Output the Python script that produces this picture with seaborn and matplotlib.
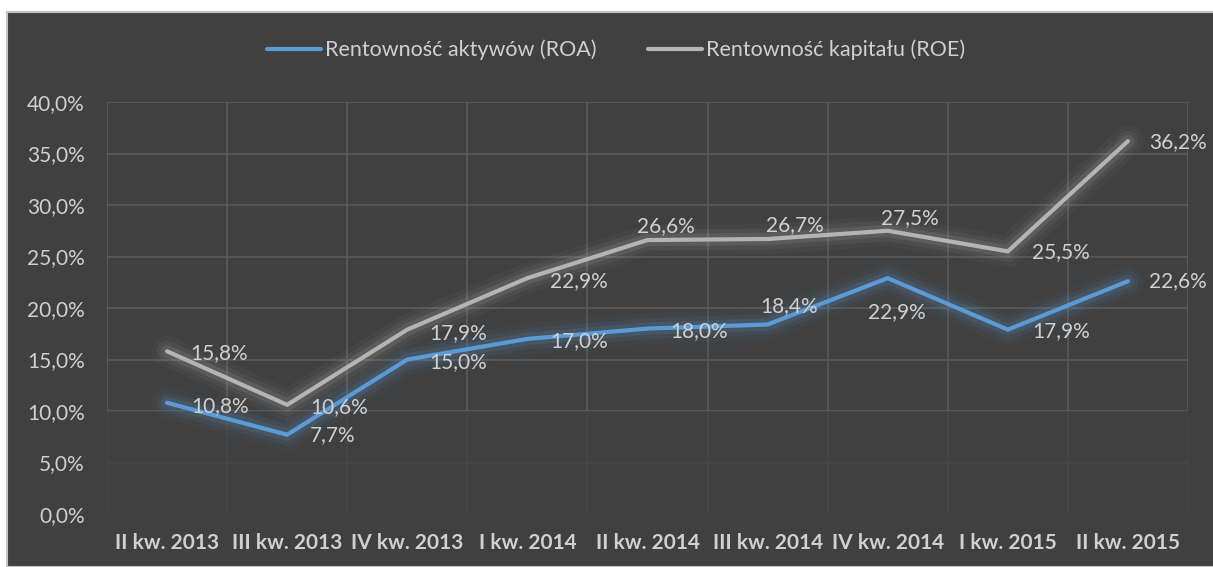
import matplotlib
matplotlib.use('Agg')
import matplotlib.pyplot as plt
import matplotlib.patheffects as pe
from matplotlib.patches import Rectangle
from matplotlib.ticker import FuncFormatter, MultipleLocator
import pandas as pd
import seaborn as sns

quarters = ['II kw. 2013', 'III kw. 2013', 'IV kw. 2013', 'I kw. 2014', 'II kw. 2014',
            'III kw. 2014', 'IV kw. 2014', 'I kw. 2015', 'II kw. 2015']
roa = [10.8, 7.7, 15.0, 17.0, 18.0, 18.4, 22.9, 17.9, 22.6]
roe = [15.8, 10.6, 17.9, 22.9, 26.6, 26.7, 27.5, 25.5, 36.2]
series_names = ['Rentowność aktywów (ROA)', 'Rentowność kapitału (ROE)']

# label offsets in pixels (dx, dy down-positive)
roa_offsets = [(24, 3), (23, 0), (22, 3), (23, 2), (23, 2), (-7, -18), (-20, 34), (24, 1), (21, 0)]
roe_offsets = [(23, 2), (23, 2), (22, 3), (23, 3), (-10, -14), (-2, -14), (-7, -13), (24, 1), (21, 1)]

BG = '#404040'
GRID = '#5a5a5a'
TXT = '#d0d0d0'
BLUE = '#5b9bd5'
GREY = '#b4b4b4'

sns.set_theme(style='dark')
plt.rcParams['font.family'] = ['Lato', 'DejaVu Sans']

df = pd.DataFrame({'kwartal': quarters * 2,
                   'wartosc': roa + roe,
                   'seria': [series_names[0]] * len(quarters) + [series_names[1]] * len(quarters)})

fig = plt.figure(figsize=(12.13, 5.67), dpi=100, facecolor='white')
fig.patches.append(Rectangle((7 / 1213, 0), 1, 555 / 567, transform=fig.transFigure,
                             facecolor=BG, edgecolor='#c4c4c4', linewidth=1.5, zorder=-10))

ax = fig.add_axes([107 / 1213, 53 / 567, 1081 / 1213, 412 / 567])
ax.set_zorder(1)
ax.set_facecolor(BG)

sns.lineplot(data=df, x='kwartal', y='wartosc', hue='seria', palette=[BLUE, GREY],
             linewidth=3, ax=ax, legend=False, sort=False, zorder=4)

# soft glow round both lines, like the Excel effect
for line, col in zip(ax.get_lines(), [BLUE, GREY]):
    line.set_solid_joinstyle('miter')
    line.set_path_effects([pe.Stroke(linewidth=22, foreground=col, alpha=0.05),
                           pe.Stroke(linewidth=15, foreground=col, alpha=0.08),
                           pe.Stroke(linewidth=9, foreground=col, alpha=0.14),
                           pe.Normal()])

ax.set_xlim(-0.5, len(quarters) - 0.5)
ax.set_ylim(0, 40)
ax.yaxis.set_major_locator(MultipleLocator(5))
ax.yaxis.set_major_formatter(FuncFormatter(lambda v, p: f'{v:.1f}%'.replace('.', ',')))
ax.set_xticks(range(len(quarters)))
ax.set_xticks([i + 0.5 for i in range(-1, len(quarters))], minor=True)

ax.grid(False)
for yv in range(5, 45, 5):
    ax.axhline(yv, color=GRID, linewidth=1.2, zorder=1)
for xv in ax.get_xticks(minor=True):
    ax.axvline(xv, color=GRID, linewidth=1.2, zorder=1)
# lower part of the grid looks washed out in the original
ax.axhspan(0, 10, color=BG, alpha=0.75, zorder=2, linewidth=0)

for s in ax.spines.values():
    s.set_visible(False)

ax.tick_params(axis='y', length=0, pad=16, labelsize=15, labelcolor=TXT)
ax.tick_params(axis='x', which='both', length=0, pad=14, labelsize=15, labelcolor=TXT)
for t in ax.get_xticklabels():
    t.set_fontweight('bold')
ax.set_xlabel('')
ax.set_ylabel('')

for vals, offs in ((roa, roa_offsets), (roe, roe_offsets)):
    for i, (v, (dx, dy)) in enumerate(zip(vals, offs)):
        ax.annotate(f'{v:.1f}%'.replace('.', ','), (i, v), xytext=(dx * 0.72, -dy * 0.72),
                    textcoords='offset points', ha='left', va='center',
                    fontsize=15, color=TXT, zorder=5)

handles = [plt.Line2D([], [], color=BLUE, linewidth=3),
           plt.Line2D([], [], color=GREY, linewidth=3)]
fig.legend(handles, series_names, loc='center', bbox_to_anchor=(616 / 1213, 1 - 50 / 567),
           ncol=2, frameon=False, fontsize=15.5, labelcolor=TXT,
           handlelength=2.5, handletextpad=0.2, columnspacing=2.4)

fig.savefig('out.png', dpi=100, facecolor='white')
